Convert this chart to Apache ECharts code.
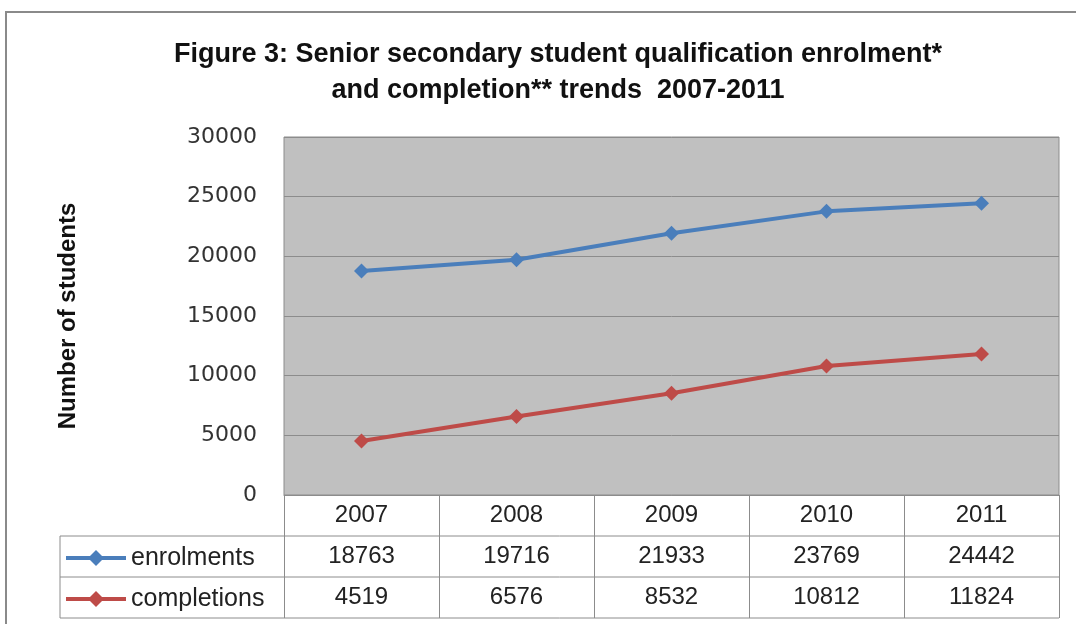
<!DOCTYPE html>
<html><head><meta charset="utf-8">
<script src="https://cdn.jsdelivr.net/npm/echarts@6/dist/echarts.min.js"></script>
<style>html,body{margin:0;padding:0;background:#fff}#c{width:1076px;height:624px}</style>
</head><body><div id="c"></div>
<script>
const years = ['2007','2008','2009','2010','2011'];
const enrolments = [18763, 19716, 21933, 23769, 24442];
const completions = [4519, 6576, 8532, 10812, 11824];
const seriesNames = ['enrolments','completions'];
const titleText = 'Figure 3: Senior secondary student qualification enrolment*\nand completion** trends  2007-2011';

const G = {left:284, top:137, right:1059, bottom:495};
const rowH = 41;
const tableLeft = 60;
const lineCol = '#8c8c8c';

const chart = echarts.init(document.getElementById('c'));
const graphics = [
  {type:'rect', shape:{x:6,y:12,width:1200,height:800}, style:{fill:'none',stroke:'#8a8a8a',lineWidth:2}, silent:true},
  {type:'line', shape:{x1:tableLeft,y1:G.bottom+rowH,x2:G.right,y2:G.bottom+rowH}, style:{stroke:lineCol,lineWidth:1}},
  {type:'line', shape:{x1:tableLeft,y1:G.bottom+2*rowH,x2:G.right,y2:G.bottom+2*rowH}, style:{stroke:lineCol,lineWidth:1}},
  {type:'line', shape:{x1:tableLeft,y1:G.bottom+3*rowH,x2:G.right,y2:G.bottom+3*rowH}, style:{stroke:lineCol,lineWidth:1}},
  {type:'line', shape:{x1:tableLeft,y1:G.bottom+rowH,x2:tableLeft,y2:G.bottom+3*rowH}, style:{stroke:lineCol,lineWidth:1}}
];
chart.setOption({
  animation:false,
  backgroundColor:'#fff',
  title:{text:titleText, left:553, textAlign:'center', top:32,
    textStyle:{fontFamily:'Liberation Sans', fontWeight:'bold', fontSize:27, lineHeight:36, color:'#111'}},
  grid:{left:G.left, top:G.top, width:G.right-G.left, height:G.bottom-G.top, show:true,
    backgroundColor:'#c0c0c0', borderColor:lineCol, borderWidth:1},
  legend:{orient:'vertical', left:64, top:G.bottom+rowH+9, itemGap:rowH-26, itemWidth:60, itemHeight:20,
    padding:0, data:seriesNames, lineStyle:{width:4},
    textStyle:{fontFamily:'Liberation Sans', fontSize:25, lineHeight:26, color:'#222', padding:[0,0,0,0]}},
  xAxis:{type:'category', data:years, boundaryGap:true,
    axisLine:{lineStyle:{color:lineCol}},
    axisTick:{show:true, length:3*rowH, inside:false, lineStyle:{color:lineCol}},
    axisLabel:{margin:0, interval:0,
      formatter:(v, i)=>'{y|'+v+'}\n{v|'+enrolments[i]+'}\n{v|'+completions[i]+'}',
      rich:{y:{fontFamily:'Liberation Sans', fontSize:24, lineHeight:rowH, color:'#222'},
            v:{fontFamily:'Liberation Sans', fontSize:24, lineHeight:rowH, color:'#222'}}}},
  yAxis:{type:'value', min:0, max:30000, interval:5000,
    name:'Number of students', nameLocation:'middle', nameGap:204, nameRotate:90,
    nameTextStyle:{fontFamily:'Liberation Sans', fontWeight:'bold', fontSize:24, color:'#111'},
    axisLine:{show:false}, axisTick:{show:false},
    axisLabel:{margin:27, fontFamily:'DejaVu Sans', fontSize:22, color:'#333', formatter:v=>String(v)},
    splitLine:{lineStyle:{color:lineCol, width:1}}},
  series:[
    {name:seriesNames[0], type:'line', data:enrolments, symbol:'diamond', symbolSize:15,
      color:'#4a7ebb', lineStyle:{width:4}},
    {name:seriesNames[1], type:'line', data:completions, symbol:'diamond', symbolSize:15,
      color:'#be4b48', lineStyle:{width:4}}
  ],
  graphic:graphics
});
</script></body></html>
